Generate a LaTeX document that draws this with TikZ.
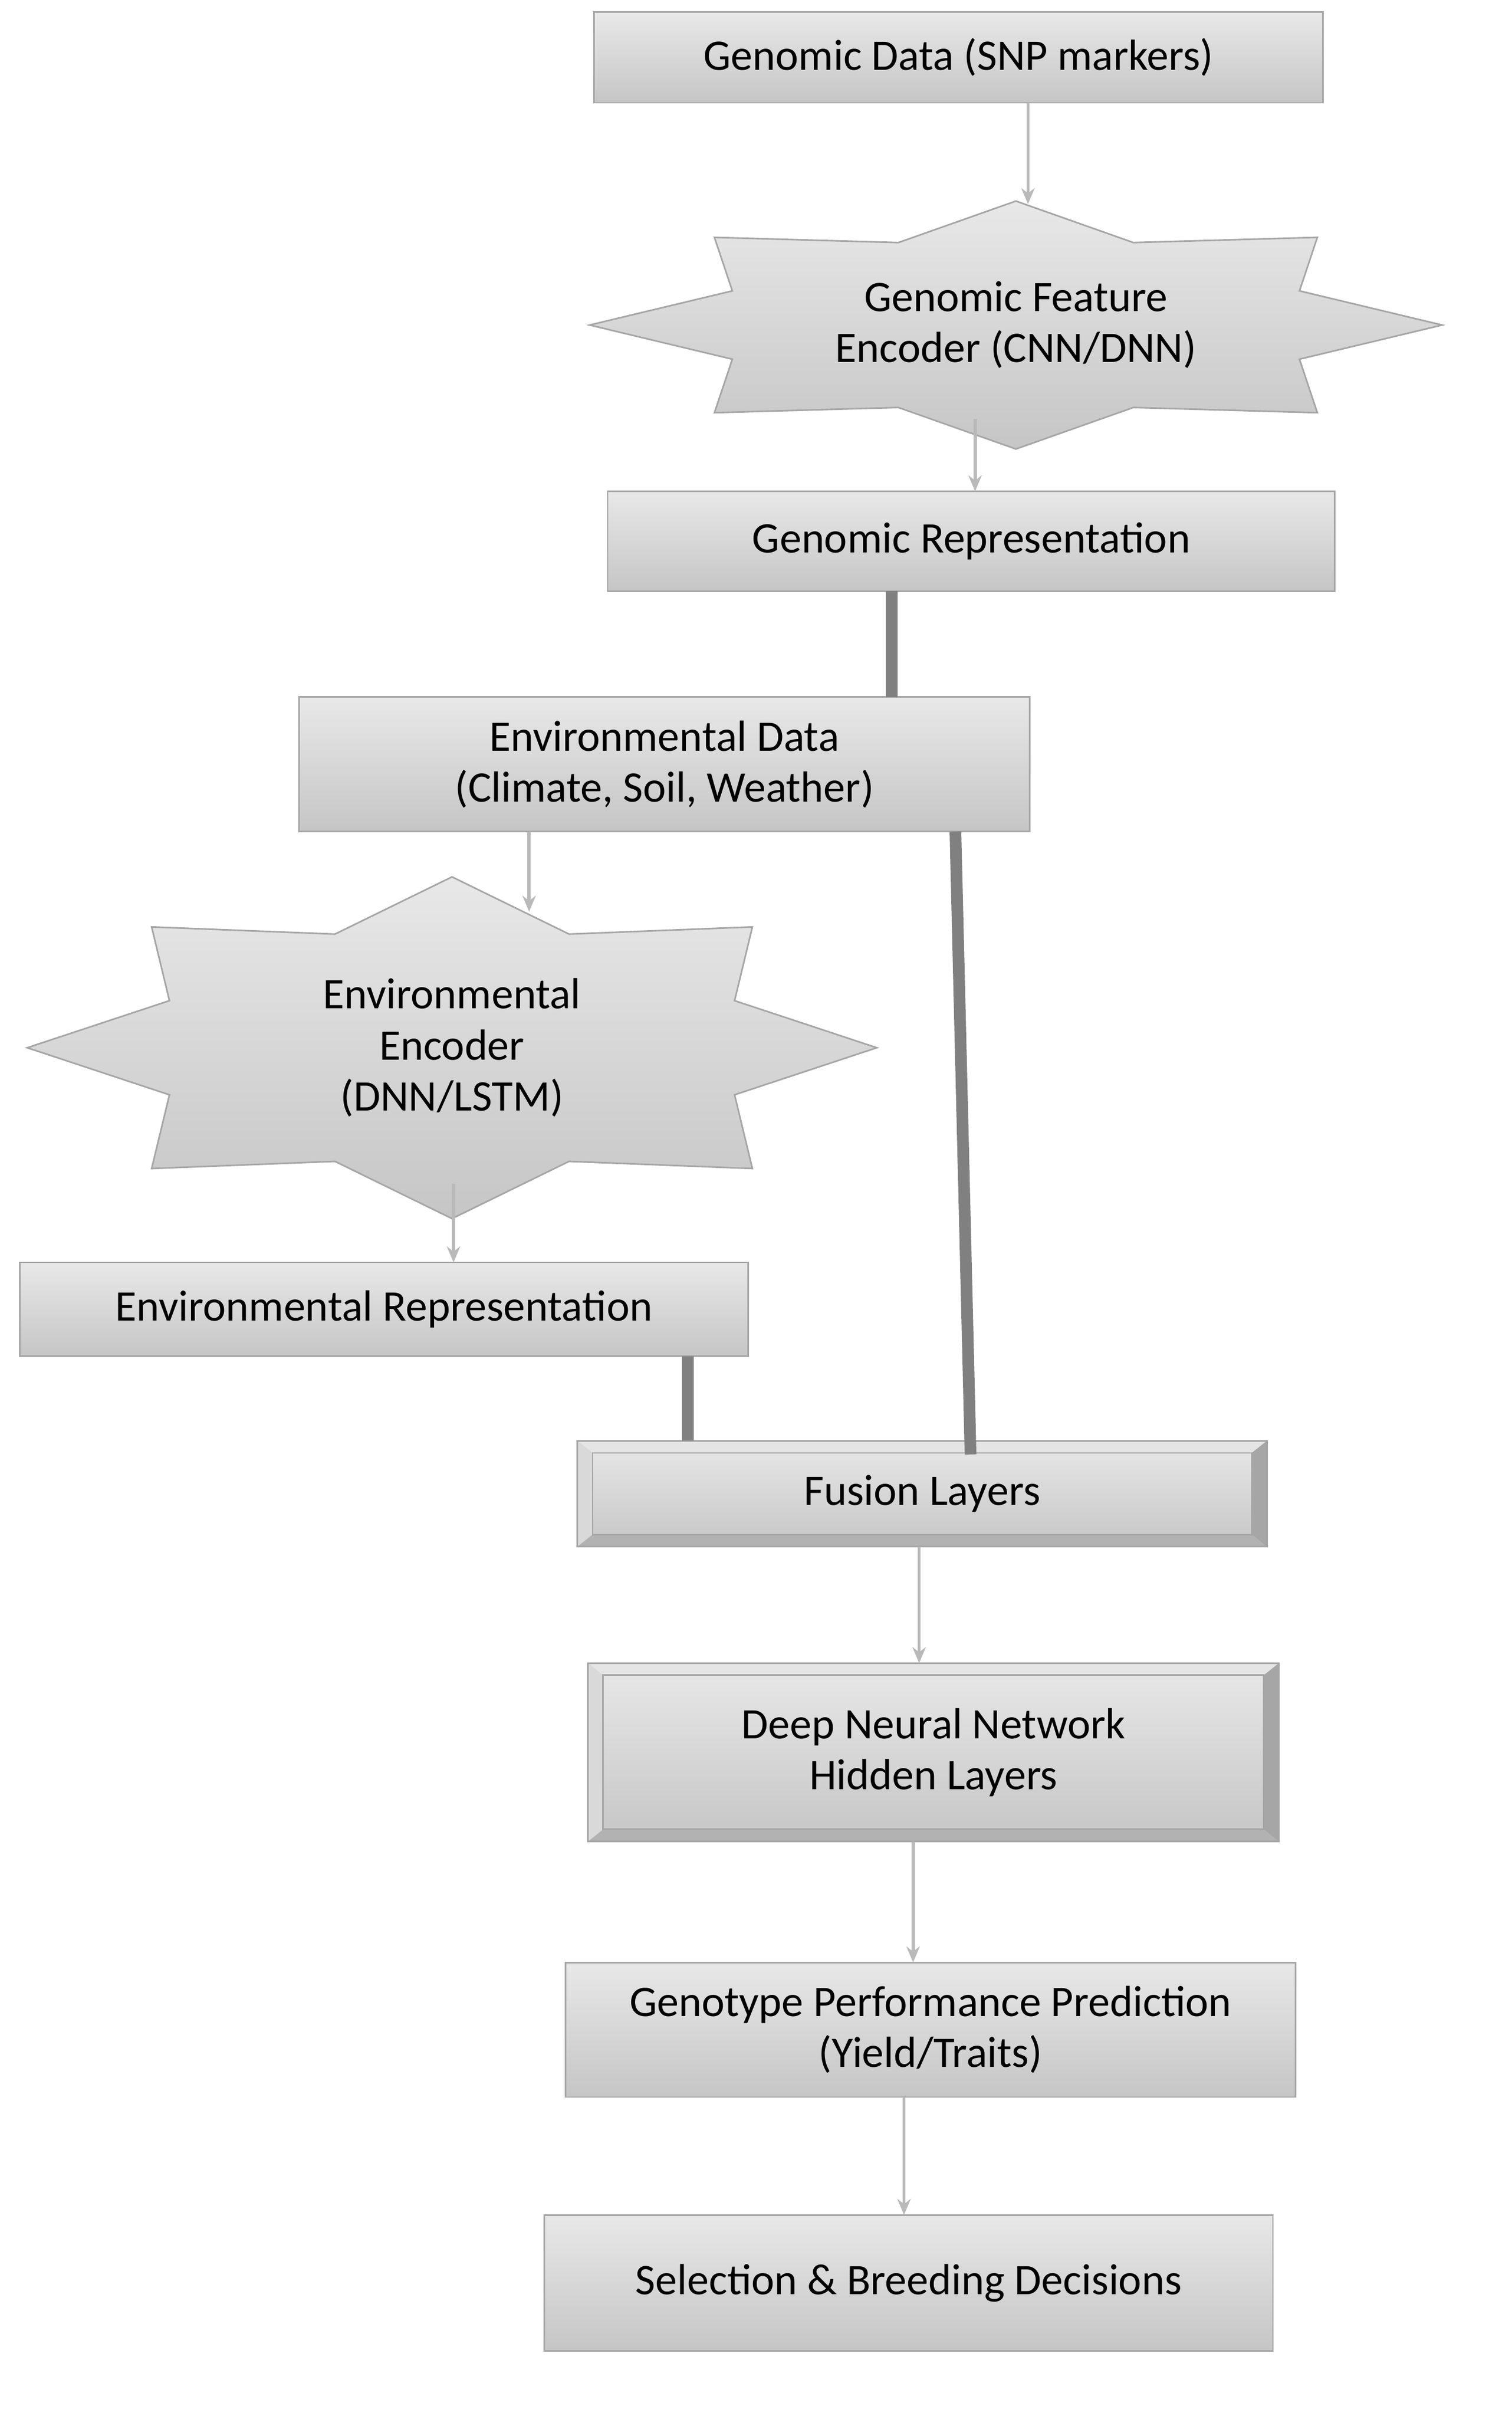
\documentclass[tikz,border=0pt]{standalone}
\usepackage{fontspec}
\usetikzlibrary{arrows.meta}
\setmainfont{Carlito}
\begin{document}
\begin{tikzpicture}[x=0.01cm,y=-0.01cm,font=\fontsize{8.2}{9.6}\selectfont,
 box/.style={draw=gray!70,top color=gray!18,bottom color=gray!45,line width=0.3pt},
 arr/.style={draw=gray!55,line width=0.6pt,-{Stealth[length=3pt,width=2.5pt]}},
 thick line/.style={line width=2.2pt,color=gray}]
\useasboundingbox (0,0) rectangle (1000,1598);
\newcommand\mybox[6]{\path[box] (#2,#3) rectangle (#4,#5); \node[align=center] (#1) at ({(#2+#4)/2},{(#3+#5)/2}) {#6};}
\newcommand\mybevel[6]{%
 \path[box] (#2,#3) rectangle (#4,#5);
 \fill[gray!20] (#2,#3)--(#4,#3)--(#4-10,#3+8)--(#2+10,#3+8)--cycle;
 \fill[gray!30] (#2,#3)--(#2+10,#3+8)--(#2+10,#5-8)--(#2,#5)--cycle;
 \fill[gray!70] (#4,#3)--(#4,#5)--(#4-10,#5-8)--(#4-10,#3+8)--cycle;
 \fill[gray!60] (#2,#5)--(#4,#5)--(#4-10,#5-8)--(#2+10,#5-8)--cycle;
 \draw[gray!70,line width=0.3pt] (#2,#3) rectangle (#4,#5) (#2+10,#3+8) rectangle (#4-10,#5-8);
 \node[align=center] (#1) at ({(#2+#4)/2},{(#3+#5)/2}) {#6};}
\newcommand\mystar[6]{% name cx cy rx ry text
 \path[box] ({#2+#4*cos(90)},{#3-#5*sin(90)})
 \foreach \k in {0,...,7}{ -- ({#2+0.72*#4*cos(90+45*\k+22.5)},{#3-0.72*#5*sin(90+45*\k+22.5)}) -- ({#2+#4*cos(90+45*\k+45)},{#3-#5*sin(90+45*\k+45)})} -- cycle;
 \node[align=center] (#1) at (#2,#3) {#6};}
\mybox{g}{393}{8}{875}{68}{Genomic Data (SNP markers)}
\mystar{ge}{672}{215}{282}{82}{Genomic Feature\\Encoder (CNN/DNN)}
\mybox{gr}{402}{325}{883}{391}{Genomic Representation}
\mybox{ed}{198}{461}{681}{550}{Environmental Data\\(Climate, Soil, Weather)}
\mystar{ee}{299}{693}{281}{113}{Environmental\\Encoder\\(DNN/LSTM)}
\mybox{er}{13}{835}{495}{897}{Environmental Representation}
\mybevel{fu}{382}{953}{838}{1023}{Fusion Layers}
\mybevel{dn}{389}{1100}{846}{1218}{Deep Neural Network\\Hidden Layers}
\mybox{gp}{374}{1298}{857}{1387}{Genotype Performance Prediction\\(Yield/Traits)}
\mybox{se}{360}{1465}{842}{1555}{Selection \& Breeding Decisions}
\draw[arr] (680,68) -- (680,135);
\draw[arr] (645,277) -- (645,325);
\draw[thick line] (590,391) -- (590,461);
\draw[arr] (350,550) -- (350,603);
\draw[arr] (300,783) -- (300,835);
\draw[thick line] (455,897) -- (455,953);
\draw[thick line] (632,550) -- (642,962);
\draw[arr] (608,1023) -- (608,1100);
\draw[arr] (604,1218) -- (604,1298);
\draw[arr] (598,1387) -- (598,1465);
\end{tikzpicture}
\end{document}
